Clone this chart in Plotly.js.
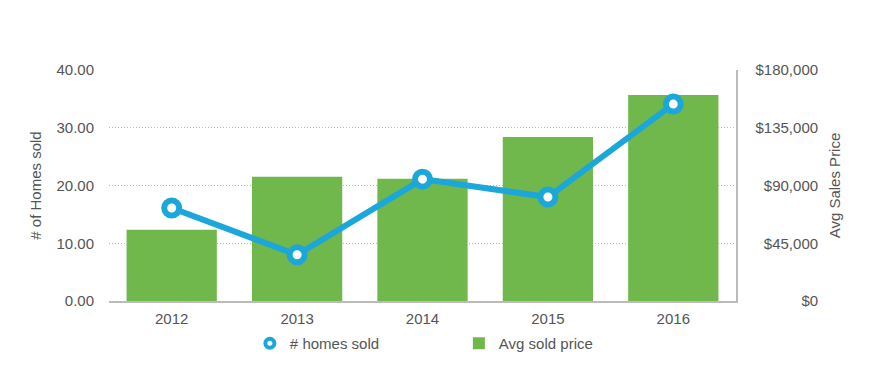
<!DOCTYPE html>
<html>
<head>
<meta charset="utf-8">
<script src="https://cdn.plot.ly/plotly-3.0.1.min.js"></script>
<style>html,body{margin:0;padding:0;background:#fff;}#chart{width:873px;height:391px;}</style>
</head>
<body>
<div id="chart"></div>
<script>
var years = ['2012', '2013', '2014', '2015', '2016'];
var homesSold = [16.1, 8.0, 21.1, 18.0, 34.1];
var avgPrice = [55600, 96800, 95200, 127800, 160500];
var leftTickVals = [0, 10, 20, 30, 40];
var leftTickText = ['0.00', '10.00', '20.00', '30.00', '40.00'];
var rightTickVals = [0, 45000, 90000, 135000, 180000];
var rightTickText = ['\u2007\u2007\u2007\u2007\u2007\u2008$0', '\u2007$45,000', '\u2007$90,000', '$135,000', '$180,000'];

var blue = '#1ca7da';
var green = '#71b84c';
var textColor = '#555555';
var fontFam = 'Liberation Sans, Arial, sans-serif';
var fs = 15;

var traces = [
  {
    type: 'bar', x: years, y: avgPrice, yaxis: 'y', name: 'Avg sold price',
    marker: {color: green}, legendrank: 2, hoverinfo: 'skip'
  },
  {
    type: 'scatter', mode: 'lines+markers', x: years, y: homesSold, yaxis: 'y2',
    name: '# homes sold', showlegend: false,
    line: {color: blue, width: 6},
    marker: {symbol: 'circle', size: 15, color: '#ffffff', line: {color: blue, width: 6}},
    cliponaxis: false
  },
  {
    type: 'scatter', mode: 'markers', x: [null], y: [null], yaxis: 'y2',
    name: '# homes sold', legendrank: 1,
    marker: {symbol: 'circle', size: 9, color: '#ffffff', line: {color: blue, width: 4}}
  }
];

var layout = {
  width: 873, height: 391,
  margin: {l: 109, r: 137, t: 70, b: 89.5, pad: 0},
  paper_bgcolor: '#ffffff', plot_bgcolor: '#ffffff',
  font: {family: fontFam, size: fs, color: textColor},
  bargap: 0.28,
  showlegend: true,
  legend: {
    orientation: 'h', x: 0.558, xanchor: 'center', y: -0.184, yanchor: 'middle',
    font: {size: fs, color: textColor}, entrywidth: 164, entrywidthmode: 'pixels'
  },
  xaxis: {
    type: 'category', showgrid: false, zeroline: false,
    showline: true, linecolor: '#bbbbbb', linewidth: 1.5,
    ticks: '', ticklabelstandoff: 3,
    tickfont: {size: fs, color: textColor}
  },
  yaxis: {
    range: [0, 180000], side: 'right',
    tickvals: rightTickVals, ticktext: rightTickText,
    showgrid: false, zeroline: false,
    showline: true, linecolor: '#bbbbbb', linewidth: 1.5,
    ticks: '', ticklabelstandoff: 15,
    title: {text: 'Avg Sales Price', standoff: 12, font: {size: fs, color: textColor}},
    tickfont: {size: fs, color: textColor}
  },
  yaxis2: {
    range: [0, 40], overlaying: 'y', side: 'left',
    tickvals: leftTickVals, ticktext: leftTickText,
    showgrid: true, gridcolor: '#b8b8b8', griddash: '1px,2px', gridwidth: 1,
    zeroline: false, showline: false, ticks: '', ticklabelstandoff: 14,
    title: {text: '# of Homes sold', standoff: 11, font: {size: fs, color: textColor}},
    tickfont: {size: fs, color: textColor}
  }
};

Plotly.newPlot('chart', traces, layout, {displayModeBar: false, staticPlot: true});
</script>
</body>
</html>
